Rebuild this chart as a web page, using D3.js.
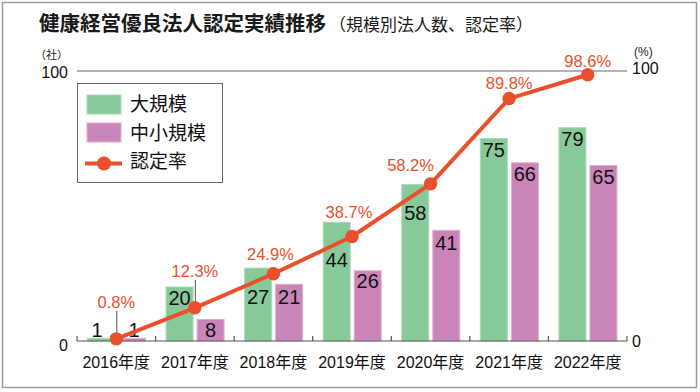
<!DOCTYPE html>
<html><head><meta charset="utf-8">
<script src="https://cdn.jsdelivr.net/npm/d3@7"></script>
<style>
html,body{margin:0;padding:0;background:#fff;}
svg{display:block;}
</style></head>
<body>
<svg id="chart" width="700" height="392"></svg>
<script>
// ---- data ----
const categories = ['2016年度','2017年度','2018年度','2019年度','2020年度','2021年度','2022年度'];
const largeValues = [1, 20, 27, 44, 58, 75, 79];
const smallValues = [1, 8, 21, 26, 41, 66, 65];
const rateValues = [0.8, 12.3, 24.9, 38.7, 58.2, 89.8, 98.6];
const leftTicks = [0, 100];
const rightTicks = [0, 100];
const seriesNames = ['大規模', '中小規模', '認定率'];

// ---- label layout (positions only) ----
const rateLabelShift = [[0,-31],[0,-31],[-3,-14],[-3,-19],[-20,-13],[0,-10],[0,-8]];
const rateLeader = [true, true, false, false, false, false, false];
const largeLabelShift = [[-4,-1],[0,18],[0,36],[0,45],[0,35.5],[0,18.5],[0,18]];
const smallLabelShift = [[2,-1],[0,17.5],[0,20],[0,17],[0,20],[0,18],[0,18.5]];

const GREEN = '#88c999', GREEN_E = '#a9dbb6';
const PINK = '#c985b8', PINK_E = '#ddb0d2';
const RED = '#e9502b';
const NARROW = '"Liberation Sans Narrow","Liberation Sans",Arial,sans-serif';
const NUM = '"Liberation Sans",Arial,sans-serif';
const JP = '"Liberation Sans","Noto Sans CJK JP",sans-serif';

const svg = d3.select('#chart');

// frame
svg.append('rect').attr('x',2.5).attr('y',2.5).attr('width',694).attr('height',385)
  .attr('fill','none').attr('stroke','#9a9a9a').attr('stroke-width',1.5);

// title
const title = svg.append('text').attr('x',39).attr('y',31)
  .attr('font-family','"Noto Sans CJK JP",sans-serif').attr('fill','#1a1a1a');
title.append('tspan').attr('font-size',20.5).attr('font-weight',700).text('健康経営優良法人認定実績推移');
title.append('tspan').attr('font-size',17).attr('font-weight',400).attr('dx',3).text('（規模別法人数、認定率）');

// scales
const x = d3.scaleBand().domain(categories).range([77, 627]).padding(0);
const xs = d3.scaleBand().domain(['large','small']).range([10.5, 68.5]).paddingInner(0.13);
const y = d3.scaleLinear().domain([0, 100]).range([341, 71]);
const yr = d3.scaleLinear().domain([0, 100]).range([341, 71]);

// gridline at 100
svg.append('line').attr('x1',77).attr('x2',627).attr('y1',y(100)).attr('y2',y(100))
  .attr('stroke','#666').attr('stroke-width',1);

// left axis labels
svg.append('text').attr('x',68).attr('y',y(100)-12).attr('text-anchor','end')
  .attr('font-size',11).attr('font-family','"Noto Sans CJK JP",sans-serif').attr('fill','#222').text('（社）');
svg.selectAll('.lt').data(leftTicks).join('text')
  .attr('x',68).attr('y',d => y(d) + (d===0 ? 10 : 7)).attr('text-anchor','end')
  .attr('font-size',16).attr('font-family',NUM).attr('fill','#111').text(d => d);
// right axis labels
svg.append('text').attr('x',634).attr('y',y(100)-15)
  .attr('font-size',12).attr('font-family',NUM).attr('fill','#222').text('(%)');
svg.selectAll('.rt').data(rightTicks).join('text')
  .attr('x',632).attr('y',d => yr(d) + (d===0 ? 6 : 3)).attr('font-size',16)
  .attr('font-family',NUM).attr('fill','#111').text(d => d);

// bars
const g = svg.append('g');
categories.forEach((c, i) => {
  const x0 = x(c);
  g.append('rect').attr('x', x0 + xs('large')).attr('width', xs.bandwidth())
    .attr('y', y(largeValues[i])).attr('height', y(0) - y(largeValues[i]))
    .attr('fill', GREEN).attr('stroke', GREEN_E).attr('stroke-width', 1);
  g.append('rect').attr('x', x0 + xs('small')).attr('width', xs.bandwidth())
    .attr('y', y(smallValues[i])).attr('height', y(0) - y(smallValues[i]))
    .attr('fill', PINK).attr('stroke', PINK_E).attr('stroke-width', 1);
});

// bar labels
categories.forEach((c, i) => {
  const x0 = x(c);
  g.append('text').attr('x', x0 + xs('large') + xs.bandwidth()/2 + largeLabelShift[i][0])
    .attr('y', y(largeValues[i]) + largeLabelShift[i][1]).attr('text-anchor','middle')
    .attr('font-size',20).attr('font-family',NARROW).attr('fill','#111').text(largeValues[i]);
  g.append('text').attr('x', x0 + xs('small') + xs.bandwidth()/2 + smallLabelShift[i][0])
    .attr('y', y(smallValues[i]) + smallLabelShift[i][1]).attr('text-anchor','middle')
    .attr('font-size',20).attr('font-family',NARROW).attr('fill','#111').text(smallValues[i]);
});

// baseline axis
const bounds = categories.map(c => x(c)).concat([x.range()[1]]);
svg.append('line').attr('x1',77).attr('x2',627).attr('y1',y(0)).attr('y2',y(0))
  .attr('stroke','#555').attr('stroke-width',1.2);
svg.selectAll('.tk').data(bounds).join('line')
  .attr('x1',d=>d).attr('x2',d=>d).attr('y1',y(0)).attr('y2',y(0)-5)
  .attr('stroke','#555').attr('stroke-width',1.2);
svg.selectAll('.cl').data(categories).join('text')
  .attr('x', d => x(d) + x.bandwidth()/2).attr('y', 368).attr('text-anchor','middle')
  .attr('font-size',16).attr('font-family',JP).attr('fill','#111').text(d => d);

// leader lines
categories.forEach((c, i) => {
  if (!rateLeader[i]) return;
  const cx = x(c) + x.bandwidth()/2;
  svg.append('line').attr('x1',cx+0.5).attr('x2',cx+0.5)
    .attr('y1', yr(rateValues[i]) + rateLabelShift[i][1] + 3).attr('y2', yr(rateValues[i]))
    .attr('stroke','#555').attr('stroke-width',1);
});

// rate line
const line = d3.line().x((d,i) => x(categories[i]) + x.bandwidth()/2).y(d => yr(d));
svg.append('path').datum(rateValues).attr('d', line).attr('fill','none')
  .attr('stroke', RED).attr('stroke-width', 4).attr('stroke-linejoin','round');
svg.selectAll('.dot').data(rateValues).join('circle')
  .attr('cx',(d,i) => x(categories[i]) + x.bandwidth()/2).attr('cy', d => yr(d))
  .attr('r', 6.7).attr('fill', RED);
svg.selectAll('.rl').data(rateValues).join('text')
  .attr('x',(d,i) => x(categories[i]) + x.bandwidth()/2 + rateLabelShift[i][0])
  .attr('y',(d,i) => yr(d) + rateLabelShift[i][1]).attr('text-anchor','middle')
  .attr('font-size',16.5).attr('font-family',NUM).attr('fill',RED).text(d => d.toFixed(1) + '%');

// legend
const lg = svg.append('g');
lg.append('rect').attr('x',77.5).attr('y',83.5).attr('width',145).attr('height',99)
  .attr('fill','#fff').attr('stroke','#666').attr('stroke-width',1);
lg.append('rect').attr('x',87).attr('y',95).attr('width',34).attr('height',19)
  .attr('fill',GREEN).attr('stroke',GREEN_E);
lg.append('rect').attr('x',87).attr('y',123).attr('width',34).attr('height',19)
  .attr('fill',PINK).attr('stroke',PINK_E);
lg.append('line').attr('x1',85).attr('x2',122).attr('y1',163.5).attr('y2',163.5)
  .attr('stroke',RED).attr('stroke-width',4);
lg.append('circle').attr('cx',104).attr('cy',163.5).attr('r',7).attr('fill',RED);
lg.selectAll('.lt').data(seriesNames).join('text')
  .attr('x',130).attr('y',(d,i) => 111 + i*28.5)
  .attr('font-size',19).attr('font-family','"Noto Sans CJK JP",sans-serif').attr('fill','#111').text(d => d);
</script>
</body></html>
